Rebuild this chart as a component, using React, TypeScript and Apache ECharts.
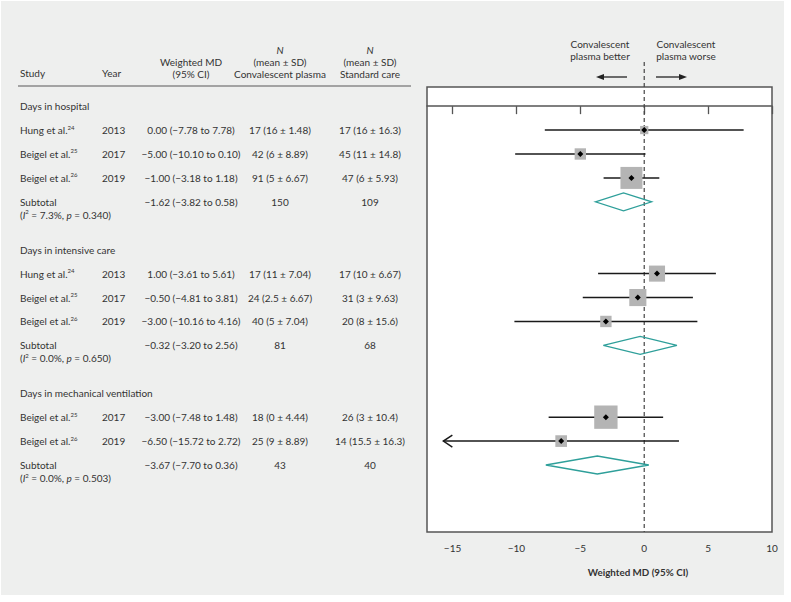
import React, { useEffect, useRef } from 'react';
import * as echarts from 'echarts';

// ---------- data ----------
const GROUP_NAMES = ['Days in hospital', 'Days in intensive care', 'Days in mechanical ventilation'];
const GROUP_ROWS = [0, 6, 12];

const STUDY_NAMES = ['Hung et al.', 'Beigel et al.', 'Beigel et al.', 'Hung et al.', 'Beigel et al.', 'Beigel et al.', 'Beigel et al.', 'Beigel et al.'];
const STUDY_REFS = ['24', '25', '26', '24', '25', '26', '25', '26'];
const STUDY_YEARS = ['2013', '2017', '2019', '2013', '2017', '2019', '2017', '2019'];
const STUDY_ROWS = [1, 2, 3, 7, 8, 9, 13, 14];
const STUDY_MD = [0.0, -5.0, -1.0, 1.0, -0.5, -3.0, -3.0, -6.5];
const STUDY_LO = [-7.78, -10.1, -3.18, -3.61, -4.81, -10.16, -7.48, -15.72];
const STUDY_HI = [7.78, 0.1, 1.18, 5.61, 3.81, 4.16, 1.48, 2.72];
const STUDY_WEIGHT = [10, 19, 71, 38, 43, 19, 80, 20];
const CP_TEXT = ['17 (16 ± 1.48)', '42 (6 ± 8.89)', '91 (5 ± 6.67)', '17 (11 ± 7.04)', '24 (2.5 ± 6.67)', '40 (5 ± 7.04)', '18 (0 ± 4.44)', '25 (9 ± 8.89)'];
const SC_TEXT = ['17 (16 ± 16.3)', '45 (11 ± 14.8)', '47 (6 ± 5.93)', '17 (10 ± 6.67)', '31 (3 ± 9.63)', '20 (8 ± 15.6)', '26 (3 ± 10.4)', '14 (15.5 ± 16.3)'];

const POOLED_ROWS = [4, 10, 15];
const POOLED_MD = [-1.62, -0.32, -3.67];
const POOLED_LO = [-3.82, -3.2, -7.7];
const POOLED_HI = [0.58, 2.56, 0.36];
const POOLED_I2 = ['7.3%', '0.0%', '0.0%'];
const POOLED_P = ['0.340', '0.650', '0.503'];
const POOLED_CP_N = [150, 81, 43];
const POOLED_SC_N = [109, 68, 40];

const X_TICKS = [-15, -10, -5, 0, 5, 10];
const X_MIN = -17;
const X_MAX = 10;
const ROW_MIN = -0.8;
const ROW_MAX = 17.8;
const REF_LINE_TOP_ROW = -1.84;

// ---------- style ----------
const FONT = 'Lato, "Noto Sans", sans-serif';
const FS = 10;
const TXT = '#333333';
const COL = { study: 20, year: 102, md: 191, cp: 280, sc: 370 };
const BOX_SCALE = 2.61;
const TEAL = '#2e9f9a';

const minus = (s: string) => s.replace(/-/g, '\u2212');
const f2 = (v: number) => minus(v.toFixed(2));
const mdText = (m: number, lo: number, hi: number) => `${f2(m)} (${f2(lo)} to ${f2(hi)})`;

const rich = {
  s: { fontSize: 6, verticalAlign: 'top', lineHeight: 8, fontFamily: FONT, fill: TXT, color: TXT },
  i: { fontStyle: 'italic', fontSize: FS, lineHeight: 12, fontFamily: FONT, fill: TXT, color: TXT },
};

const txt = (x: number, y: number, text: string, align = 'left', extra: any = {}) => ({
  type: 'text',
  x,
  y,
  style: {
    text,
    fontSize: FS,
    fontFamily: FONT,
    fill: TXT,
    align,
    verticalAlign: 'middle',
    textAlign: align,
    textVerticalAlign: 'middle',
    lineHeight: 12,
    rich,
    ...extra,
  },
});

export default function App() {
  const ref = useRef<HTMLDivElement>(null);

  useEffect(() => {
    if (!ref.current) return;
    const chart = echarts.init(ref.current, null, { renderer: 'svg' });

    const headerGraphics: any[] = [
      { type: 'rect', z: -10, shape: { x: 1, y: 1, width: 783, height: 594 }, style: { fill: '#eeefee' } },
      txt(COL.study, 73, 'Study'),
      txt(COL.year, 73, 'Year'),
      txt(COL.md, 62, 'Weighted MD', 'center'),
      txt(COL.md, 73.5, '(95% CI)', 'center'),
      txt(COL.cp, 50, 'N', 'center', { fontStyle: 'italic' }),
      txt(COL.cp, 61.5, '(mean ± SD)', 'center'),
      txt(COL.cp, 73.5, 'Convalescent plasma', 'center'),
      txt(COL.sc, 50, 'N', 'center', { fontStyle: 'italic' }),
      txt(COL.sc, 61.5, '(mean ± SD)', 'center'),
      txt(COL.sc, 73.5, 'Standard care', 'center'),
      { type: 'line', shape: { x1: 18, y1: 86, x2: 411, y2: 86 }, style: { stroke: '#8a8a8a', lineWidth: 1.5 } },
      txt(600, 44, 'Convalescent', 'center'),
      txt(600, 56, 'plasma better', 'center'),
      txt(686, 44, 'Convalescent', 'center'),
      txt(686, 56, 'plasma worse', 'center'),
      { type: 'line', shape: { x1: 627, y1: 77, x2: 602, y2: 77 }, style: { stroke: '#222', lineWidth: 1.3 } },
      { type: 'polygon', shape: { points: [[596, 77], [604, 74], [604, 80]] }, style: { fill: '#222' } },
      { type: 'line', shape: { x1: 656, y1: 77, x2: 681, y2: 77 }, style: { stroke: '#222', lineWidth: 1.3 } },
      { type: 'polygon', shape: { points: [[687, 77], [679, 74], [679, 80]] }, style: { fill: '#222' } },
      txt(638, 572, 'Weighted MD (95% CI)', 'center', { fontWeight: 'bold', fontSize: 9.8 }),
    ];

    const option: any = {
      animation: false,
      backgroundColor: '#ffffff',
      textStyle: { fontFamily: FONT },
      graphic: { elements: headerGraphics },
      grid: {
        left: 427,
        top: 87,
        width: 345,
        height: 445,
        show: true,
        backgroundColor: '#ffffff',
        borderColor: '#555555',
        borderWidth: 1.5,
        containLabel: false,
      },
      xAxis: {
        type: 'value',
        min: X_MIN,
        max: X_MAX,
        splitLine: { show: false },
        axisLine: { show: true, lineStyle: { color: '#555555', width: 1.5 } },
        axisTick: { show: true, inside: false, length: 8, customValues: X_TICKS, lineStyle: { color: '#555555', width: 1.3 } },
        axisLabel: {
          customValues: X_TICKS,
          margin: 11,
          fontSize: FS,
          fontFamily: FONT,
          color: TXT,
          formatter: (v: number) => minus(String(v)),
        },
      },
      yAxis: {
        type: 'value',
        inverse: true,
        min: ROW_MIN,
        max: ROW_MAX,
        show: false,
      },
      series: [
        {
          type: 'custom',
          name: 'reference',
          clip: false,
          silent: true,
          data: [[0, REF_LINE_TOP_ROW]],
          renderItem: (params: any, api: any) => {
            const p1 = api.coord([0, REF_LINE_TOP_ROW]);
            const p2 = api.coord([0, ROW_MAX]);
            return {
              type: 'line',
              shape: { x1: p1[0], y1: p1[1], x2: p2[0], y2: p2[1] },
              style: { stroke: '#444', lineWidth: 1.2, lineDash: [4, 3] },
            };
          },
        },
        {
          type: 'custom',
          name: 'studies',
          clip: false,
          data: STUDY_ROWS.map((r, i) => [STUDY_MD[i], r]),
          renderItem: (params: any, api: any) => {
            const i = params.dataIndex;
            const row = STUDY_ROWS[i];
            const [xLo, y] = api.coord([STUDY_LO[i], row]);
            const [xHi] = api.coord([STUDY_HI[i], row]);
            const [xM] = api.coord([STUDY_MD[i], row]);
            const side = BOX_SCALE * Math.sqrt(STUDY_WEIGHT[i]);
            const children: any[] = [
              { type: 'line', shape: { x1: xLo, y1: y, x2: xHi, y2: y }, style: { stroke: '#1a1a1a', lineWidth: 1.5 } },
              { type: 'rect', shape: { x: xM - side / 2, y: y - side / 2, width: side, height: side }, style: { fill: '#b4b4b4' } },
              { type: 'polygon', shape: { points: [[xM - 3, y], [xM, y - 3], [xM + 3, y], [xM, y + 3]] }, style: { fill: '#000' } },
            ];
            if (STUDY_LO[i] < X_TICKS[0]) {
              children.push({
                type: 'polyline',
                shape: { points: [[xLo + 9, y - 6], [xLo, y], [xLo + 9, y + 6]] },
                style: { stroke: '#1a1a1a', lineWidth: 1.5, fill: 'none' },
              });
            }
            return { type: 'group', children };
          },
        },
        {
          type: 'custom',
          name: 'pooled',
          clip: false,
          data: POOLED_ROWS.map((r, i) => [POOLED_MD[i], r]),
          renderItem: (params: any, api: any) => {
            const i = params.dataIndex;
            const row = POOLED_ROWS[i];
            const [xLo, y] = api.coord([POOLED_LO[i], row]);
            const [xHi] = api.coord([POOLED_HI[i], row]);
            const [xM] = api.coord([POOLED_MD[i], row]);
            return {
              type: 'polygon',
              shape: { points: [[xLo, y], [xM, y - 9], [xHi, y], [xM, y + 9]] },
              style: { stroke: TEAL, lineWidth: 1.3, fill: 'none' },
            };
          },
        },
        {
          type: 'custom',
          name: 'groupLabels',
          clip: false,
          silent: true,
          data: GROUP_ROWS.map((r) => [X_MIN, r]),
          renderItem: (params: any, api: any) => {
            const i = params.dataIndex;
            const y = api.coord([X_MIN, GROUP_ROWS[i]])[1];
            return txt(COL.study, y, GROUP_NAMES[i]);
          },
        },
        {
          type: 'custom',
          name: 'studyTable',
          clip: false,
          silent: true,
          data: STUDY_ROWS.map((r) => [X_MIN, r]),
          renderItem: (params: any, api: any) => {
            const i = params.dataIndex;
            const y = api.coord([X_MIN, STUDY_ROWS[i]])[1];
            return {
              type: 'group',
              children: [
                txt(COL.study, y, `${STUDY_NAMES[i]}{s|${STUDY_REFS[i]}}`),
                txt(COL.year, y, STUDY_YEARS[i]),
                txt(COL.md, y, mdText(STUDY_MD[i], STUDY_LO[i], STUDY_HI[i]), 'center'),
                txt(COL.cp, y, CP_TEXT[i], 'center'),
                txt(COL.sc, y, SC_TEXT[i], 'center'),
              ],
            };
          },
        },
        {
          type: 'custom',
          name: 'pooledTable',
          clip: false,
          silent: true,
          data: POOLED_ROWS.map((r) => [X_MIN, r]),
          renderItem: (params: any, api: any) => {
            const i = params.dataIndex;
            const y = api.coord([X_MIN, POOLED_ROWS[i]])[1];
            return {
              type: 'group',
              children: [
                txt(COL.study, y, 'Subtotal'),
                txt(COL.study, y + 13, `({i|I}{s|2} = ${POOLED_I2[i]}, {i|p} = ${POOLED_P[i]})`),
                txt(COL.md, y, mdText(POOLED_MD[i], POOLED_LO[i], POOLED_HI[i]), 'center'),
                txt(COL.cp, y, String(POOLED_CP_N[i]), 'center'),
                txt(COL.sc, y, String(POOLED_SC_N[i]), 'center'),
              ],
            };
          },
        },
      ],
    };

    chart.setOption(option);
    return () => chart.dispose();
  }, []);

  return <div ref={ref} style={{ position: 'absolute', left: 0, top: 0, width: 791, height: 602 }} />;
}
